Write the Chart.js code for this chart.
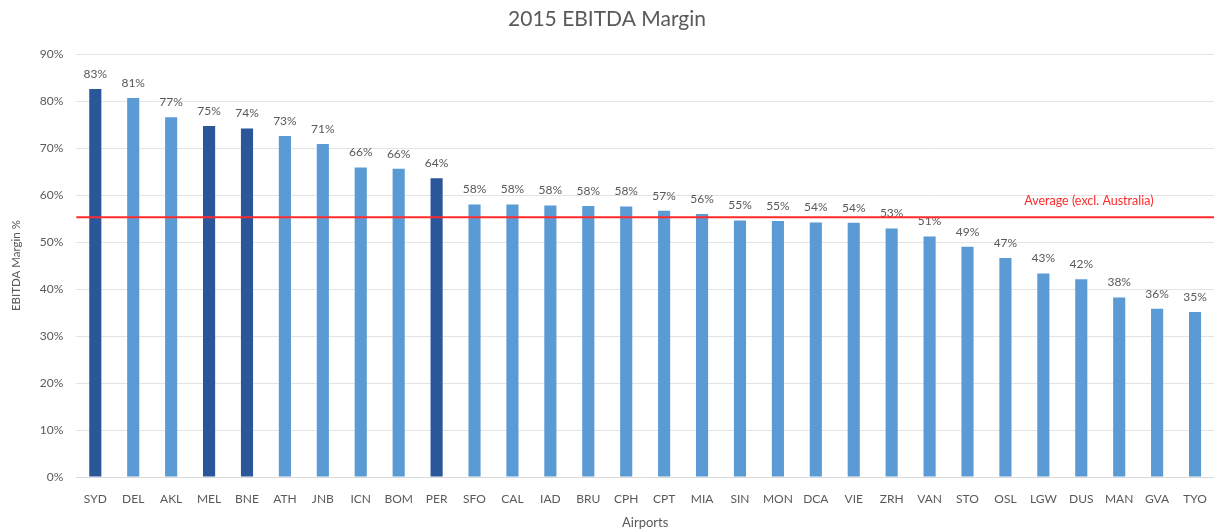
<!DOCTYPE html>
<html>
<head>
<meta charset="utf-8">
<script src="https://cdn.jsdelivr.net/npm/chart.js@4/dist/chart.umd.min.js"></script>
<style>
  html, body { margin: 0; padding: 0; background: #fff; }
  #wrap { width: 1214px; height: 531px; }
</style>
</head>
<body>
<div id="wrap"><canvas id="c"></canvas></div>
<script>
// 2015 EBITDA margin by airport, Australian airports highlighted.
const airports = ["SYD", "DEL", "AKL", "MEL", "BNE", "ATH", "JNB", "ICN", "BOM", "PER",
  "SFO", "CAL", "IAD", "BRU", "CPH", "CPT", "MIA", "SIN", "MON", "DCA",
  "VIE", "ZRH", "VAN", "STO", "OSL", "LGW", "DUS", "MAN", "GVA", "TYO"];
const margins = [82.6, 80.7, 76.6, 74.7, 74.2, 72.6, 70.9, 65.9, 65.6, 63.6,
  58.0, 58.0, 57.8, 57.7, 57.6, 56.7, 56.0, 54.6, 54.5, 54.2,
  54.1, 52.9, 51.2, 49.0, 46.6, 43.3, 42.1, 38.2, 35.8, 35.1];
const australian = ["SYD", "MEL", "BNE", "PER"];
const averageExAus = 55.3;
const yTicks = [0, 10, 20, 30, 40, 50, 60, 70, 80, 90];

const DARK = "#2b579a";
const LIGHT = "#5b9bd5";
const INK = "#595959";
const FONT = "Lato, 'Open Sans', sans-serif";

// value labels above each bar
const barLabels = {
  id: "barLabels",
  afterDatasetsDraw(chart) {
    const ctx = chart.ctx;
    const meta = chart.getDatasetMeta(0);
    ctx.save();
    ctx.font = `12px ${FONT}`;
    ctx.fillStyle = INK;
    ctx.textAlign = "center";
    ctx.textBaseline = "bottom";
    meta.data.forEach((bar, i) => {
      ctx.fillText(`${Math.round(margins[i])}%`, bar.x, bar.y - 9);
    });
    ctx.restore();
  },
};

// red average line across the plot
const averageLine = {
  id: "averageLine",
  afterDatasetsDraw(chart) {
    const { ctx, chartArea, scales } = chart;
    const y = scales.y.getPixelForValue(averageExAus);
    ctx.save();
    ctx.strokeStyle = "#ff2a2a";
    ctx.lineWidth = 2;
    ctx.beginPath();
    ctx.moveTo(chartArea.left, y);
    ctx.lineTo(chartArea.right, y);
    ctx.stroke();
    ctx.font = `12.5px ${FONT}`;
    ctx.fillStyle = "#ff2a2a";
    ctx.textAlign = "center";
    ctx.textBaseline = "bottom";
    ctx.fillText("Average (excl. Australia)", scales.x.getPixelForValue(26.2), y - 10);
    ctx.restore();
  },
};

new Chart(document.getElementById("c"), {
  type: "bar",
  data: {
    labels: airports,
    datasets: [{
      data: margins,
      backgroundColor: airports.map((a) => (australian.includes(a) ? DARK : LIGHT)),
      borderWidth: 0,
      categoryPercentage: 1,
      barPercentage: 0.32,
    }],
  },
  options: {
    responsive: true,
    maintainAspectRatio: false,
    animation: false,
    layout: { padding: { left: 0, right: 0, top: 4, bottom: 0 } },
    plugins: {
      legend: { display: false },
      tooltip: { enabled: false },
      title: {
        display: true,
        text: "2015 EBITDA Margin",
        color: INK,
        font: { family: FONT, size: 21, weight: "normal" },
        padding: { top: 3, bottom: 22 },
      },
    },
    scales: {
      x: {
        grid: { display: false },
        border: { color: "#d9d9d9" },
        ticks: { color: INK, font: { family: FONT, size: 12 }, padding: 7, maxRotation: 0, autoSkip: false },
        title: { display: true, text: "Airports", color: INK, font: { family: FONT, size: 13 }, padding: { top: 2, bottom: 0 } },
      },
      y: {
        min: 0,
        max: 90,
        afterBuildTicks: (axis) => { axis.ticks = yTicks.map((v) => ({ value: v })); },
        grid: { color: "#e4e4e4", drawTicks: false },
        border: { display: false },
        ticks: { color: INK, font: { family: FONT, size: 12 }, padding: 13, callback: (v) => `${v}%` },
        title: { display: true, text: "EBITDA Margin %", color: INK, font: { family: FONT, size: 11.5 }, padding: { top: 9, bottom: 4 } },
      },
    },
  },
  plugins: [barLabels, averageLine],
});
</script>
</body>
</html>
